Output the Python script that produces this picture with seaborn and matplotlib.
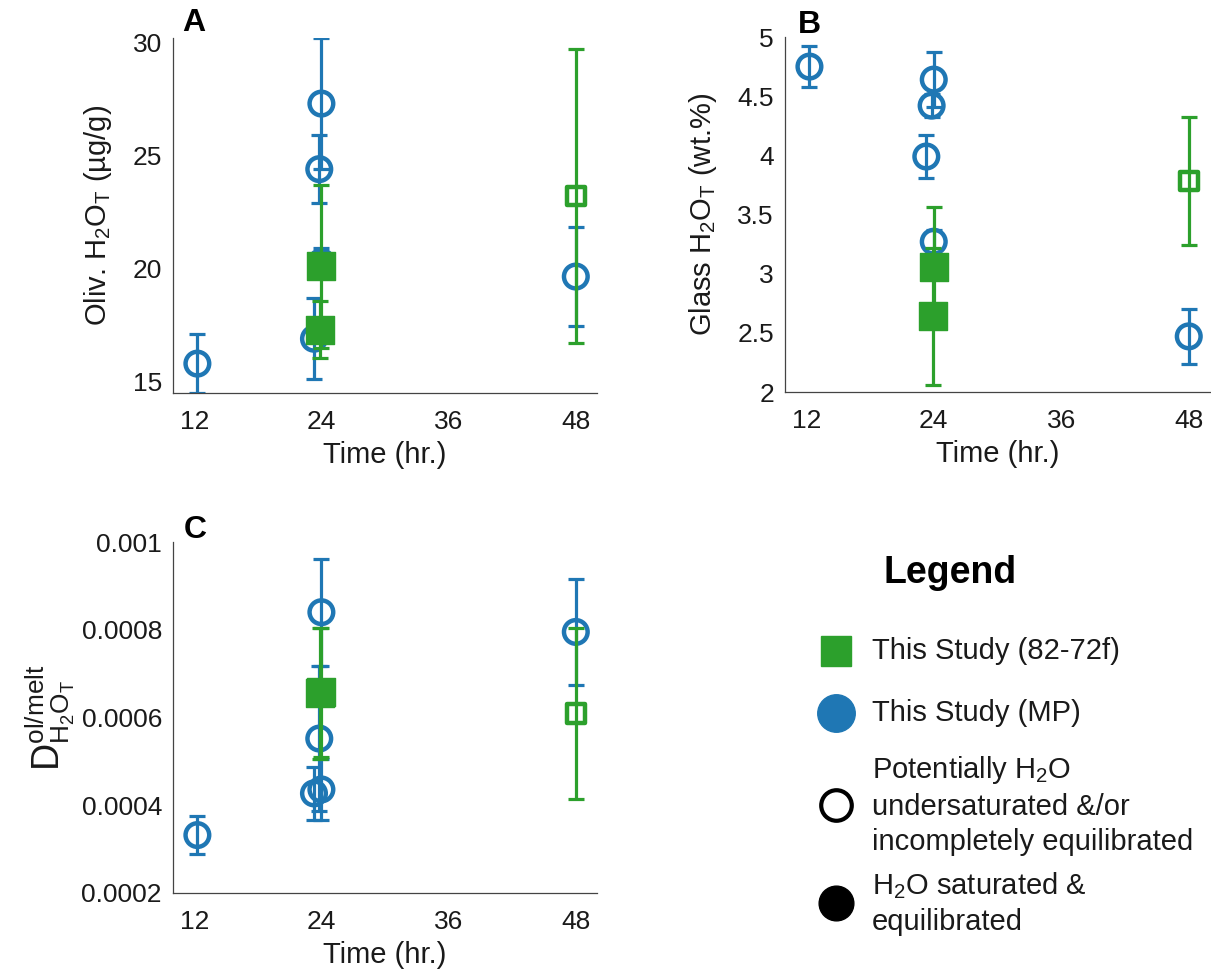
import numpy as np
import matplotlib
matplotlib.use("Agg")
import matplotlib.pyplot as plt
from matplotlib.lines import Line2D
import seaborn as sns

# sample times (hr.), small offsets as in the figure
mp_time = [12.3, 24.0, 23.8, 23.3, 24.0, 48.0]
g_time = [24.0, 23.9, 48.0]

# This Study (MP) - all potentially undersaturated (open)
mp_oliv = [15.8, 27.3, 24.4, 16.9, 20.3, 19.65]
mp_oliv_err = [1.3, 2.9, 1.5, 1.8, 0.6, 2.2]
mp_glass = [4.75, 3.27, 4.42, 3.99, 4.64, 2.47]
mp_glass_err = [0.17, 0.1, 0.1, 0.18, 0.23, 0.23]
mp_D = [0.000332, 0.00084, 0.000552, 0.000427, 0.000436, 0.000795]
mp_D_err = [0.000043, 0.000122, 0.000165, 0.00006, 0.00007, 0.00012]

# This Study (82-72f)
g_oliv = [20.1, 17.3, 23.2]
g_oliv_err = [3.6, 1.25, 6.5]
g_glass = [3.06, 2.64, 3.78]
g_glass_err = [0.5, 0.58, 0.54]
g_D = [0.000657, 0.000655, 0.000609]
g_D_err = [0.000148, 0.00015, 0.000194]
g_saturated = [True, True, False]

x_ticks = [12, 24, 36, 48]
a_ticks = [15, 20, 25, 30]
b_ticks = [2, 2.5, 3, 3.5, 4, 4.5, 5]
b_labels = ["2", "2.5", "3", "3.5", "4", "4.5", "5"]
c_ticks = [0.0002, 0.0004, 0.0006, 0.0008, 0.001]
c_labels = ["0.0002", "0.0004", "0.0006", "0.0008", "0.001"]

legend_labels = [
    "This Study (82-72f)",
    "This Study (MP)",
    "Potentially H$_2$O\nundersaturated &/or\nincompletely equilibrated",
    "H$_2$O saturated &\nequilibrated",
]

blue = "#1f77b4"
green = "#2ca02c"
txt = "#1a1a1a"

sns.set_style("white")
plt.rcParams["font.family"] = ["Liberation Sans", "DejaVu Sans"]
plt.rcParams["mathtext.default"] = "regular"

fig = plt.figure(figsize=(12.11, 9.76), dpi=100)
W, H = 1211, 976


def px_axes(left, top, right, bottom):
    return fig.add_axes([left / W, 1 - bottom / H, (right - left) / W, (bottom - top) / H])


def draw_panel(ax, mp_y, mp_err, g_y, g_err):
    ax.errorbar(mp_time, mp_y, yerr=mp_err, fmt="none", ecolor=blue,
                elinewidth=2.3, capsize=5.5, capthick=2.3, zorder=2)
    sns.scatterplot(x=mp_time, y=mp_y, ax=ax, marker="o", s=290,
                    facecolor="none", edgecolor=blue, linewidth=3.2, zorder=3)
    g_time_arr = np.array(g_time)
    g_y_arr = np.array(g_y)
    sat = np.array(g_saturated)
    ax.errorbar(g_time, g_y, yerr=g_err, fmt="none", ecolor=green,
                elinewidth=2.3, capsize=5.5, capthick=2.3, zorder=4)
    sns.scatterplot(x=g_time_arr[sat], y=g_y_arr[sat], ax=ax, marker="s", s=400,
                    color=green, edgecolor=green, linewidth=1, zorder=5)
    sns.scatterplot(x=g_time_arr[~sat], y=g_y_arr[~sat], ax=ax, marker="s", s=170,
                    facecolor="none", edgecolor=green, linewidth=3.2, zorder=5)
    ax.set_xlim(10, 50)
    ax.set_xticks(x_ticks)
    ax.set_xlabel("Time (hr.)", fontsize=21, color=txt, labelpad=5)
    sns.despine(ax=ax)
    for s in ["left", "bottom"]:
        ax.spines[s].set_color("#444444")
        ax.spines[s].set_linewidth(0.9)
    ax.tick_params(direction="in", length=4, width=0.9, colors="#444444",
                   labelcolor=txt, labelsize=19)
    ax.tick_params(axis="x", pad=12)
    ax.tick_params(axis="y", pad=8)


axA = px_axes(173, 38, 597, 393)
draw_panel(axA, mp_oliv, mp_oliv_err, g_oliv, g_oliv_err)
axA.set_ylim(14.5, 30.2)
axA.set_yticks(a_ticks)
axA.set_ylabel("Oliv. H$_2$O$_T$ (µg/g)", fontsize=21, color=txt, labelpad=13)

axB = px_axes(785, 37, 1210, 392)
draw_panel(axB, mp_glass, mp_glass_err, g_glass, g_glass_err)
axB.set_ylim(2, 5)
axB.set_yticks(b_ticks)
axB.set_yticklabels(b_labels)
axB.set_ylabel("Glass H$_2$O$_T$ (wt.%)", fontsize=21, color=txt, labelpad=13)

axC = px_axes(173, 542, 597, 893)
draw_panel(axC, mp_D, mp_D_err, g_D, g_D_err)
axC.set_ylim(0.0002, 0.001)
axC.set_yticks(c_ticks)
axC.set_yticklabels(c_labels)
axC.set_ylabel("D$^{ol/melt}_{H_2O_T}$", fontsize=27, color=txt, labelpad=3)

for letter, x, y in [("A", 182, 8), ("B", 798, 10), ("C", 184, 515)]:
    fig.text(x / W, 1 - y / H, letter, fontsize=23, fontweight="bold",
             va="top", ha="left", color="black")

# legend, laid out by hand like the original
fig.text(950 / W, 1 - 573 / H, "Legend", fontsize=27, fontweight="bold",
         ha="center", va="center", color="black")
legend_markers = [
    dict(marker="s", ms=22, color=green),
    dict(marker="o", ms=27, color=blue),
    dict(marker="o", ms=22, mfc="white", mec="black", mew=3),
    dict(marker="o", ms=25, color="black"),
]
legend_rows = [651, 713, 805, 903]
for style, label, row in zip(legend_markers, legend_labels, legend_rows):
    fig.add_artist(Line2D([836 / W], [1 - row / H], transform=fig.transFigure,
                          ls="none", **style))
    fig.text(872 / W, 1 - row / H, label, fontsize=21, color=txt,
             ha="left", va="center", linespacing=1.3)

fig.savefig("out.png", dpi=100)
